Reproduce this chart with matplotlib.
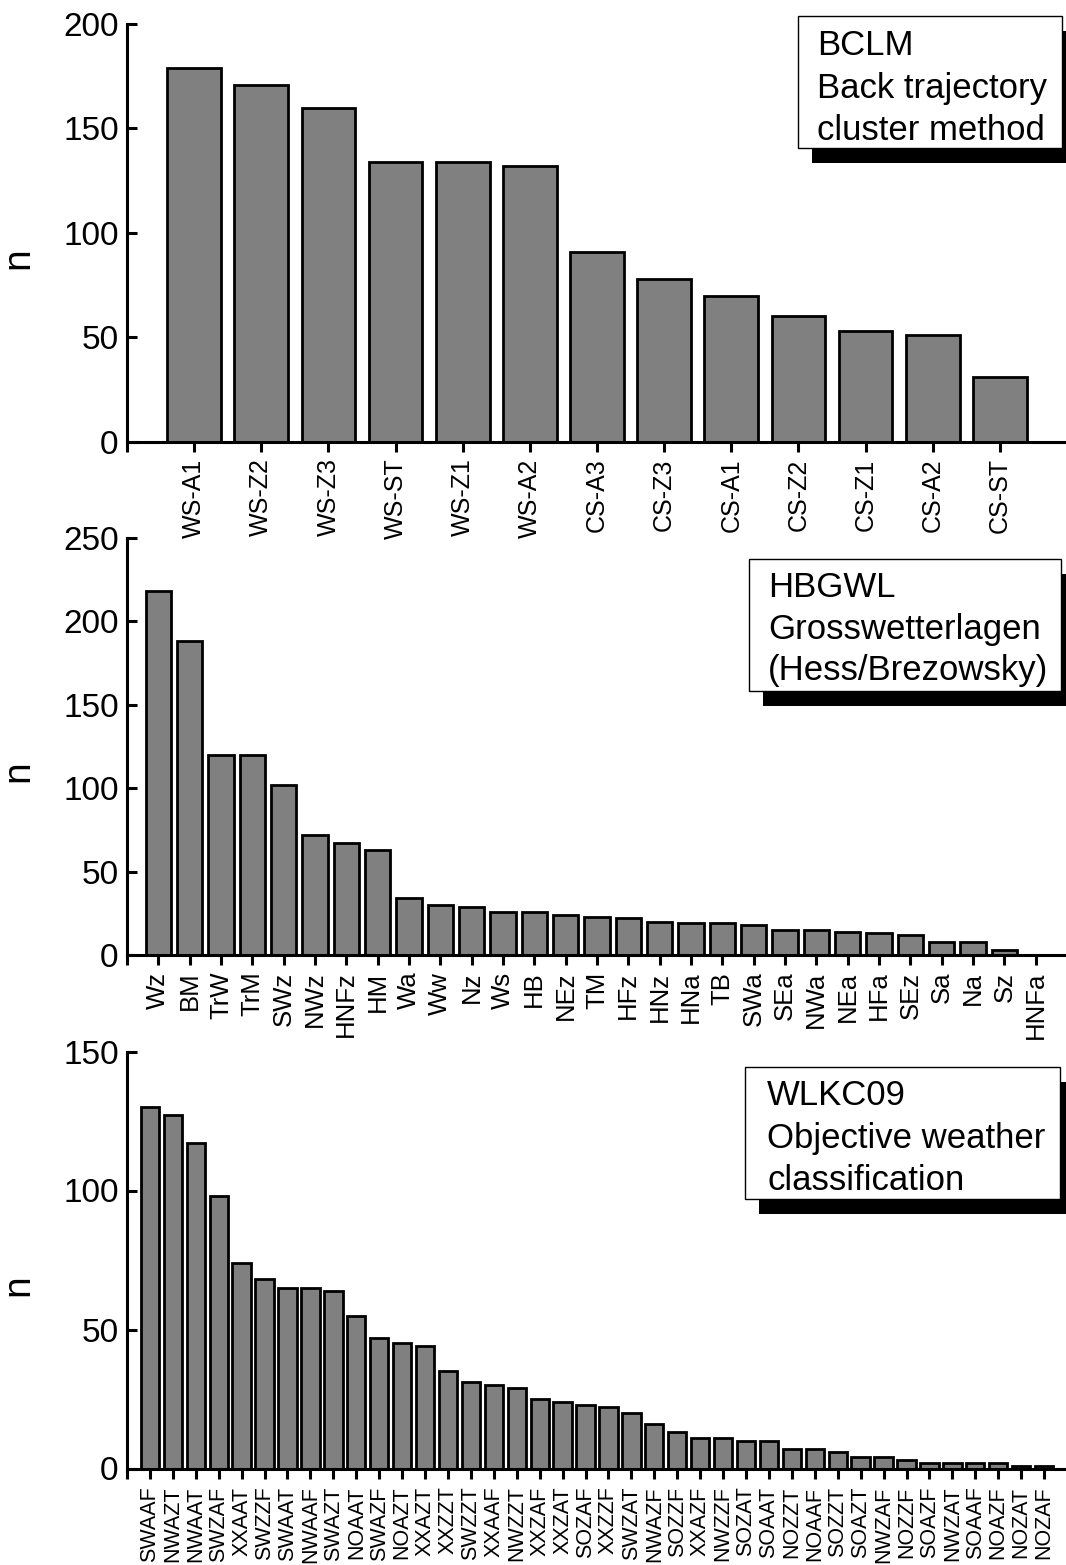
import matplotlib
matplotlib.use("Agg")
import matplotlib.pyplot as plt
from matplotlib.patches import Rectangle

plt.rcParams['font.family'] = ['Liberation Sans', 'DejaVu Sans']

# ---------------- data ----------------
bclm_labels = ["WS-A1", "WS-Z2", "WS-Z3", "WS-ST", "WS-Z1", "WS-A2", "CS-A3",
               "CS-Z3", "CS-A1", "CS-Z2", "CS-Z1", "CS-A2", "CS-ST"]
bclm_values = [179, 171, 160, 134, 134, 132, 91, 78, 70, 60, 53, 51, 31]

hbgwl_labels = ["Wz", "BM", "TrW", "TrM", "SWz", "NWz", "HNFz", "HM", "Wa", "Ww",
                "Nz", "Ws", "HB", "NEz", "TM", "HFz", "HNz", "HNa", "TB", "SWa",
                "SEa", "NWa", "NEa", "HFa", "SEz", "Sa", "Na", "Sz", "HNFa"]
hbgwl_values = [218, 188, 120, 120, 102, 72, 67, 63, 34, 30,
                29, 26, 26, 24, 23, 22, 20, 19, 19, 18,
                15, 15, 14, 13, 12, 8, 8, 3, 0]

wlkc_labels = ["SWAAF", "NWAZT", "NWAAT", "SWZAF", "XXAAT", "SWZZF", "SWAAT", "NWAAF",
               "SWAZT", "NOAAT", "SWAZF", "NOAZT", "XXAZT", "XXZZT", "SWZZT", "XXAAF",
               "NWZZT", "XXZAF", "XXZAT", "SOZAF", "XXZZF", "SWZAT", "NWAZF", "SOZZF",
               "XXAZF", "NWZZF", "SOZAT", "SOAAT", "NOZZT", "NOAAF", "SOZZT", "SOAZT",
               "NWZAF", "NOZZF", "SOAZF", "NWZAT", "SOAAF", "NOAZF", "NOZAT", "NOZAF"]
wlkc_values = [130, 127, 117, 98, 74, 68, 65, 65, 64, 55, 47, 45, 44, 35, 31, 30,
               29, 25, 24, 23, 22, 20, 16, 13, 11, 11, 10, 10, 7, 7, 6, 4,
               4, 3, 2, 2, 2, 2, 1, 1]

y_maxes = [200, 250, 150]
y_ticks = [[0, 50, 100, 150, 200], [0, 50, 100, 150, 200, 250], [0, 50, 100, 150]]
box_texts = [["BCLM", "Back trajectory", "cluster method"],
             ["HBGWL", "Grosswetterlagen", "(Hess/Brezowsky)"],
             ["WLKC09", "Objective weather", "classification"]]

# ---------------- layout (pixels) ----------------
W, H = 1066, 1565
fig = plt.figure(figsize=(W / 100, H / 100), dpi=100)

def fx(x):
    return x / W

def fy(y):
    return 1 - y / H

ax_left, ax_right = 127, 1067
panels_px = [(24, 441.7), (538, 955), (1051.5, 1468.5)]
xfont = [18, 18.5, 15.5]
xpad = [5, 5, 6]
# box: (left, top, right, bottom), text x, baselines
boxes_px = [((797.7, 15.7, 1061.7, 147.7), 817.3, [55, 98, 140]),
            ((749, 559, 1061, 691), 768.3, [597, 639, 680]),
            ((745, 1067, 1060, 1199), 767.3, [1105, 1148, 1190])]

datasets = [(bclm_labels, bclm_values), (hbgwl_labels, hbgwl_values),
            (wlkc_labels, wlkc_values)]

for i, ((labels, values), (top, bot)) in enumerate(zip(datasets, panels_px)):
    ax = fig.add_axes([fx(ax_left), fy(bot), fx(ax_right) - fx(ax_left),
                       (bot - top) / H])
    ax.set_facecolor("none")
    ax.set_zorder(3 - i)
    n = len(labels)
    xs = list(range(n))
    ax.bar(xs, values, width=0.8, color="#808080", edgecolor="black",
           linewidth=2.0, zorder=2)
    ax.set_xlim(-1, n)
    ax.set_ylim(0, y_maxes[i])
    ax.set_yticks(y_ticks[i])
    ax.set_xticks([-1] + xs)
    ax.set_xticklabels([""] + labels, rotation=90, fontsize=xfont[i])
    ax.tick_params(axis="x", direction="out", length=7, width=2.2, pad=xpad[i])
    ax.tick_params(axis="y", direction="in", length=7, width=2.2, pad=6,
                   labelsize=24)
    for s in ["top", "right"]:
        ax.spines[s].set_visible(False)
    for s in ["left", "bottom"]:
        ax.spines[s].set_linewidth(2.2)
    ax.set_ylabel("n", fontsize=28)
    ax.yaxis.set_label_coords((36 - ax_left) / (ax_right - ax_left),
                              0.44)

    # annotation box with shadow
    (bl, bt, br, bb), tx, baselines = boxes_px[i]
    off_x, off_y = 14, 15
    shadow = Rectangle((fx(bl + off_x), fy(bb + off_y)), fx(br - bl),
                       (bb - bt) / H, transform=fig.transFigure,
                       facecolor="black", edgecolor="black", linewidth=0,
                       zorder=5)
    box = Rectangle((fx(bl), fy(bb)), fx(br - bl), (bb - bt) / H,
                    transform=fig.transFigure, facecolor="white",
                    edgecolor="black", linewidth=1.0, zorder=6)
    fig.add_artist(shadow)
    fig.add_artist(box)
    for line, by in zip(box_texts[i], baselines):
        fig.text(fx(tx), fy(by), line, fontsize=25, ha="left",
                 va="baseline", zorder=7)

fig.savefig("out.png", dpi=100)
